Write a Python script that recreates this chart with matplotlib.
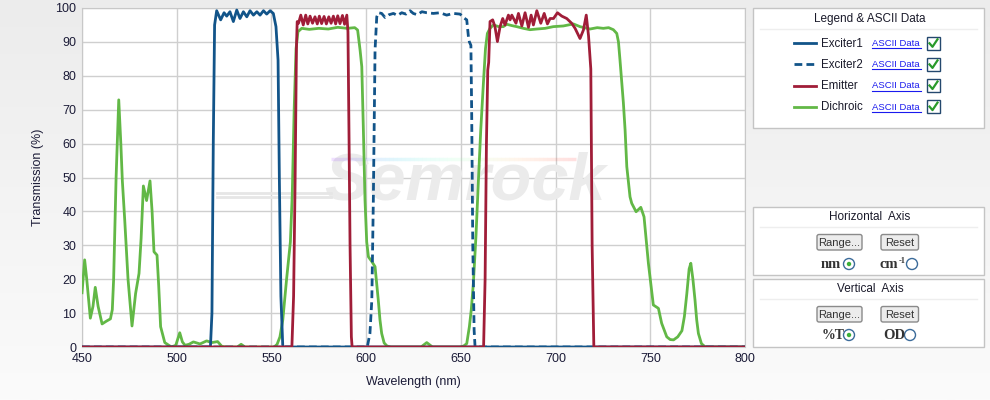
import numpy as np
import matplotlib.pyplot as plt
from matplotlib.patches import Rectangle, FancyBboxPatch, Circle
from matplotlib.colors import LinearSegmentedColormap
from matplotlib.collections import LineCollection

plt.rcParams['font.family'] = ['Liberation Sans', 'DejaVu Sans']

# ---- spectra (wavelength nm, transmission %)
exciter1_nm = [450, 517.8, 518.6, 519.3, 520.0, 521.1, 523.2, 525.0, 526.4, 528.1, 529.9, 531.7,
               533.4, 535.2, 537.0, 538.7, 540.5, 542.3, 544.0, 545.8, 547.5, 549.3, 551.0,
               552.4, 553.5, 554.2, 555.0, 556.0, 800]
exciter1_t = [0, 0, 10, 60, 95, 99.2, 96.5, 98.6, 97.6, 98.9, 96.0, 99.4,
              96.9, 98.9, 97.4, 99.2, 97.9, 98.9, 97.9, 99.2, 98.2, 99.2, 98.4,
              94.5, 84.6, 49, 15, 0, 0]

exciter2_nm = [450, 600.6, 602.0, 603.0, 603.8, 604.7, 605.6, 606.5, 608.2, 610.0, 612.0, 614.4,
               616.5, 618.8, 621.0, 623.2, 624.9, 627.0, 629.4, 632.0, 635.5, 639.0, 642.5,
               646.0, 649.6, 651.3, 653.1, 654.0, 654.5, 655.3, 655.7, 656.3, 657.0, 657.5, 800]
exciter2_t = [0, 0, 4, 13.9, 43.4, 87.6, 97.4, 98.6, 98.4, 97.2, 98.0, 98.4,
              97.8, 98.6, 98.2, 99.2, 98.4, 98.0, 98.9, 98.6, 98.4, 98.6, 97.9,
              98.4, 98.2, 97.2, 96.5, 91.5, 90, 89, 70, 30, 5, 0, 0]

emitter_nm = [450, 560.8, 561.7, 562.5, 563.2, 563.6, 564.3, 565.5, 566.8, 568.1, 569.2, 570.4,
              571.7, 573.0, 574.2, 575.3, 576.5, 577.8, 579.0, 580.3, 581.5, 582.7, 583.9,
              585.0, 586.2, 587.5, 588.6, 589.8, 590.4, 591.0, 591.5, 592.2, 592.6,
              662.0, 662.8, 663.5, 664.2, 664.7, 665.4, 666.8, 668.0, 669.3, 670.7, 672.1, 673.3,
              675.1, 676.0, 676.9, 679.1, 680.4, 682.2, 683.9, 685.7, 687.1, 688.3, 690.1,
              692.2, 694.0, 695.7, 697.1, 698.9, 701.0, 703.3, 705.9, 708.5, 710.3, 712.9,
              714.7, 716.2, 717.4, 718.6, 719.3, 720.2, 800]
emitter_t = [0, 0, 15, 49, 88, 96, 95.5, 97.9, 95.0, 97.9, 95.3, 97.6,
             95.5, 97.4, 95.3, 97.6, 95.4, 97.5, 95.3, 97.4, 95.5, 97.6, 95.3,
             97.7, 95.4, 97.8, 95.2, 97.9, 93, 60, 30, 3, 0,
             0, 20, 60, 81.7, 84, 96, 96.5, 94.5, 90.1, 94.5, 96.9, 95.0,
             97.9, 96.5, 97.9, 95.5, 98.4, 94.7, 98.6, 94.3, 97.9, 95.0, 99.2,
             95.5, 98.4, 95.3, 96.9, 96.9, 98.6, 97.6, 96.9, 95.5, 94.0, 91.0,
             93.5, 97.9, 91.8, 82, 30, 0, 0]

dichroic_nm = [450, 451.4, 452.5, 454.4, 455.8, 457.0, 458.5, 460.6, 462.8, 465.0, 466.0, 466.7,
               468.0, 469.4, 470.5, 471.3, 472.5, 474.3, 476.4, 478.3, 480.1, 481.2, 482.4,
               484.1, 485.9, 487.0, 488.0, 489.6, 490.5, 491.5, 493.7, 497.2, 499.5, 501.6,
               503.0, 504.4, 506.5, 508.8, 512.3, 515.8, 518.5, 521.6, 523.8, 526, 532, 534,
               536, 551.5, 553, 554.5, 556, 558, 560, 561, 562, 563, 564, 566, 570, 575, 580,
               585, 590, 594, 595.5, 596.8, 597.7, 598.5, 599.4, 600.3, 601.2, 603.0, 604.7,
               605.5, 606.4, 607.3, 608.2, 609.5, 611, 613, 629, 632, 635, 649.6, 651.5,
               653.1, 654.5, 655.5, 656.6, 658, 659.2, 660.5, 661.9, 663, 664, 665.4, 667.2,
               670, 672.4, 674.2, 677, 679.5, 683, 686.5, 690.1, 694.5, 698.8, 704.1, 709.4,
               712.9, 718.2, 722, 725.2, 728, 730.5, 732.3, 733.2, 734, 735.8, 736.7, 737.6,
               739.3, 740.2, 742.5, 745.0, 746.7, 749.0, 751.6, 754.3, 756.0, 758.7, 760.5,
               762.3, 764.5, 766.7, 768, 769.3, 770.5, 771.4, 772.5, 773.6, 774.5, 775.4,
               777, 779, 800]
dichroic_t = [16, 25.7, 20, 8.5, 12, 17.6, 12, 6.8, 7.6, 8.3, 11, 20,
              50, 72.9, 60, 49, 38, 20, 6.2, 15.8, 21.7, 32, 47.5,
              43.2, 49, 40, 28.1, 27.1, 18, 6, 1.3, 0, 0.5, 4.2,
              1.5, 0.5, 0.8, 1.5, 0.9, 1.8, 1.3, 1.6, 0.2, 0, 0, 0.8,
              0, 0, 0.8, 3, 8, 20, 31, 45, 70, 88, 93, 94, 93.7, 94, 93.8,
              94.3, 94, 94.2, 93.5, 87.6, 82.7, 65, 43.4, 31, 26.6, 25.2, 23.7,
              19, 13.9, 8, 4, 1.2, 0.3, 0, 0, 1.3, 0, 0, 0.3,
              1, 6, 11, 18.8, 33, 48.3, 64, 77.8, 88, 92.5, 94, 95,
              94.5, 94.5, 95.2, 94.8, 94.5, 94, 93.6, 93.8, 94, 94.5, 94.7, 95.3,
              94.5, 93.8, 94.2, 94, 94.2, 93.6, 92.5, 90, 84.7, 72, 64, 53.2,
              44.3, 42.4, 39.9, 41.2, 38.4, 24.7, 12.4, 11.4, 7, 3, 2.2,
              2.1, 3, 4.8, 9, 15.8, 23, 24.7, 20, 13.9, 8, 4,
              1, 0, 0]

series = [
    ('Dichroic', dichroic_nm, dichroic_t, '#62b846', '-'),
    ('Exciter1', exciter1_nm, exciter1_t, '#125489', '-'),
    ('Exciter2', exciter2_nm, exciter2_t, '#125489', '--'),
    ('Emitter', emitter_nm, emitter_t, '#a01d38', '-'),
]
legend_order = ['Exciter1', 'Exciter2', 'Emitter', 'Dichroic']
DASH = (2.8, 1.5)

W, H = 990, 400
fig = plt.figure(figsize=(W / 100, H / 100), dpi=100)

# background gradient
bg = fig.add_axes([0, 0, 1, 1], zorder=0)
bg.imshow(np.linspace(0, 1, 256).reshape(-1, 1), aspect='auto', extent=[0, 1, 0, 1],
          cmap=LinearSegmentedColormap.from_list('bg', ['#ececec', '#fbfbfb']))
bg.axis('off')

# main chart
ax = fig.add_axes([82 / W, 1 - 347 / H, 663 / W, 339 / H], zorder=1)
ax.set_facecolor('white')
ax.set_xlim(450, 800)
ax.set_ylim(0, 100)
ax.set_xticks(range(450, 801, 50))
ax.set_yticks(range(0, 101, 10))
ax.grid(True, color='#cfcfcf', lw=1)
ax.set_axisbelow(True)
ax.tick_params(length=0, labelsize=9, labelcolor='#1c1c38', pad=4)
for s in ax.spines.values():
    s.set_color('#c8c8c8')
ax.set_xlabel('Wavelength (nm)', fontsize=9, color='#1c1c38')
ax.set_ylabel('Transmission (%)', fontsize=9, color='#1c1c38')
ax.xaxis.set_label_coords(0.5, -0.085)
ax.yaxis.set_label_coords(-0.058, 0.5)

# faint logo watermark
ax.text(0.578, 0.485, 'Semrock', transform=ax.transAxes, ha='center', va='center',
        fontsize=48, fontweight='bold', style='italic', color='#ebebeb', zorder=1.5)
rx = np.linspace(0.375, 0.745, 60)
pts = np.array([rx, np.full_like(rx, 0.556)]).T.reshape(-1, 1, 2)
rainbow = LineCollection(np.concatenate([pts[:-1], pts[1:]], axis=1), cmap='rainbow',
                         transform=ax.transAxes, lw=2.5, alpha=0.12, zorder=1.5)
rainbow.set_array(rx[:-1])
ax.add_collection(rainbow)
for yy in (0.455, 0.442):
    ax.plot([0.203, 0.375], [yy, yy], transform=ax.transAxes, color='#e6e6e6', lw=2, zorder=1.5)

for name, x, y, c, ls in series:
    ax.plot(x, y, color=c, lw=2, ls=ls, zorder=3,
            dashes=DASH if ls == '--' else (None, None))

# side panels (pixel coordinates, y downwards)
ov = fig.add_axes([0, 0, 1, 1], zorder=2)
ov.set_xlim(0, W)
ov.set_ylim(H, 0)
ov.axis('off')
ov.patch.set_alpha(0)


def panel(y0, y1, title, sep):
    ov.add_patch(Rectangle((753, y0), 231, y1 - y0, fc='white', ec='#c4c4c4', lw=1))
    ov.text(870, (y0 + sep) / 2 + 0.5, title, ha='center', va='center', fontsize=8.5, color='#1a1a2a')
    ov.plot([760, 977], [sep, sep], color='#eeeeee', lw=1)


def button(x0, x1, y0, y1, label):
    ov.add_patch(FancyBboxPatch((x0, y0), x1 - x0, y1 - y0, boxstyle='round,pad=0,rounding_size=2',
                                fc='#ececec', ec='#8a8a8a', lw=1))
    ov.text((x0 + x1) / 2, (y0 + y1) / 2 + 0.5, label, ha='center', va='center', fontsize=8,
            color='#333333')


def radio(x, y, on):
    ov.add_patch(Circle((x, y), 5.5, fc='white', ec='#3b6b9a', lw=1))
    if on:
        ov.add_patch(Circle((x, y), 2.2, fc='#3bb03b', ec='none'))


serif = ['Liberation Serif', 'DejaVu Serif']

panel(8, 128, 'Legend & ASCII Data', 28.5)
styles = {n: (c, ls) for n, _, _, c, ls in series}
for i, name in enumerate(legend_order):
    yy = 43.3 + i * 21.1
    c, ls = styles[name]
    ov.plot([794, 816], [yy, yy], color=c, lw=2, ls=ls,
            dashes=DASH if ls == '--' else (None, None))
    ov.text(821, yy + 0.5, name, va='center', fontsize=8.3, color='#1a1a2a')
    ov.text(872, yy + 0.5, 'ASCII Data', va='center', fontsize=6.8, color='#1a1aee')
    ov.plot([872, 920.5], [yy + 5, yy + 5], color='#1a1aee', lw=0.8)
    ov.add_patch(Rectangle((927, yy - 6.5), 12.5, 13, fc='white', ec='#24486e', lw=1))
    ov.plot([929.5, 932.5, 937.5], [yy, yy + 3.5, yy - 4], color='#2a9a2a', lw=1.6)

panel(207, 275, 'Horizontal  Axis', 227)
button(817, 862, 234.5, 250, 'Range...')
button(881, 918.5, 234.5, 250, 'Reset')
ov.text(821, 264.5, 'nm', va='center', fontsize=10.5, fontweight='bold', family=serif,
        color='#333333')
radio(849, 264, True)
ov.text(880, 264.5, 'cm', va='center', fontsize=10.5, fontweight='bold', family=serif,
        color='#333333')
ov.text(898.5, 261, '-1', va='center', fontsize=6, fontweight='bold', family=serif,
        color='#333333')
radio(912, 264, False)

panel(279, 347, 'Vertical  Axis', 298.5)
button(817, 862, 306.5, 322, 'Range...')
button(881, 918.5, 306.5, 322, 'Reset')
ov.text(821.5, 335.5, '%T', va='center', fontsize=10, fontweight='bold', family=serif,
        color='#333333')
radio(849, 335, True)
ov.text(883, 335.5, 'OD', va='center', fontsize=10.5, fontweight='bold', family=serif,
        color='#333333')
radio(910, 335, False)

fig.savefig('out.png', dpi=100)
